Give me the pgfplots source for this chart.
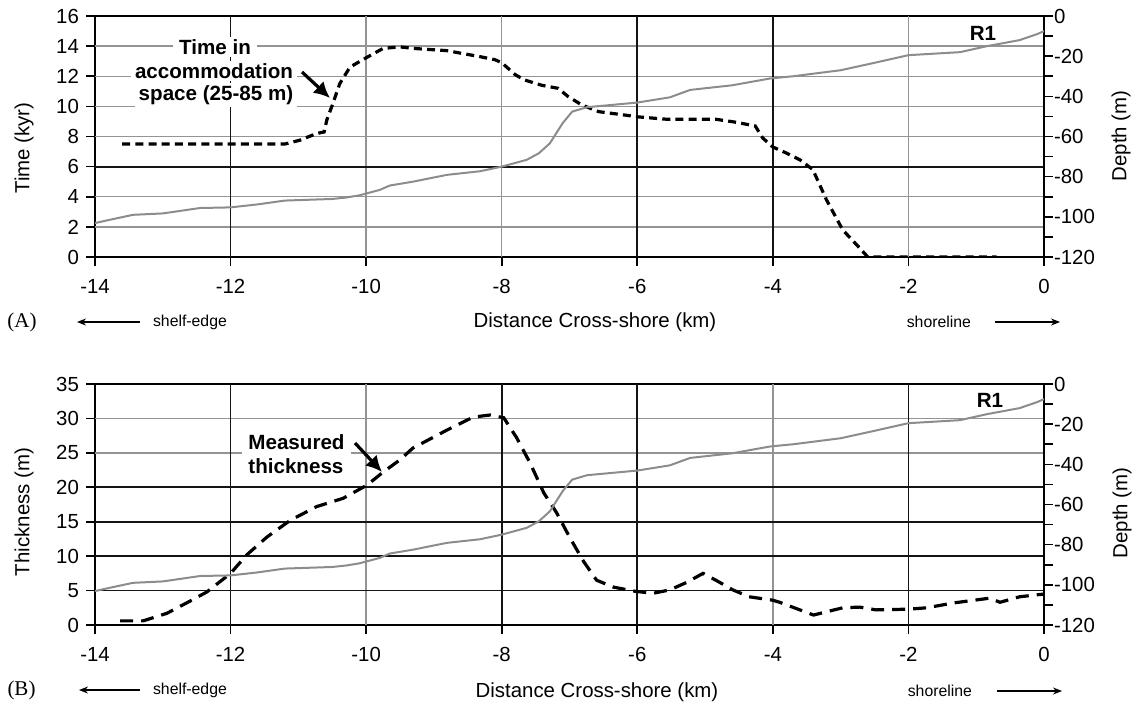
\documentclass[border=0pt]{standalone}
\usepackage{pgfplots}
\pgfplotsset{compat=1.18}
\usepackage{pgfplotstable}
\usepackage{fontspec}
\setmainfont{Liberation Sans}
\newfontfamily\timesfont{Liberation Serif}
\usetikzlibrary{arrows.meta}

% R1 depth profile (m), same in both panels
\pgfplotstableread{
x d
-14.0 -103.1
-13.8 -101.6
-13.44 -99.0
-13.0 -98.3
-12.45 -95.6
-12.0 -95.3
-11.6 -93.8
-11.2 -91.9
-10.5 -91.1
-10.3 -90.4
-10.1 -89.3
-9.8 -86.6
-9.65 -84.4
-9.31 -82.5
-8.81 -79.1
-8.32 -77.3
-8.0 -75.0
-7.63 -71.6
-7.45 -68.3
-7.29 -63.4
-7.1 -53.3
-6.96 -47.6
-6.74 -45.4
-6.0 -43.1
-5.52 -40.5
-5.22 -36.8
-4.6 -34.5
-4.04 -31.1
-3.7 -30.0
-3.0 -27.0
-2.5 -23.3
-2.0 -19.5
-1.24 -18.0
-0.84 -15.0
-0.36 -12.0
-0.1 -9.0
0.0 -7.5
}\depthprofile

% time in accommodation space (kyr)
\pgfplotstableread{
x t
-13.6 7.5
-11.2 7.5
-10.98 7.75
-10.73 8.2
-10.62 8.3
-10.58 9.1
-10.49 10.2
-10.39 11.5
-10.24 12.6
-10.05 13.1
-9.75 13.85
-9.5 13.95
-9.31 13.85
-8.81 13.7
-8.32 13.3
-8.1 13.1
-8.0 12.9
-7.8 12.1
-7.66 11.75
-7.41 11.4
-7.17 11.2
-7.02 10.65
-6.82 10.1
-6.57 9.65
-6.23 9.45
-5.98 9.3
-5.58 9.15
-4.85 9.15
-4.55 8.95
-4.26 8.7
-4.15 7.9
-4.0 7.3
-3.8 6.9
-3.6 6.45
-3.41 5.8
-3.21 3.8
-2.97 1.8
-2.72 0.6
-2.6 0.0
-0.7 0.0
}\timeacc

% measured thickness (m)
\pgfplotstableread{
x h
-13.63 0.6
-13.29 0.6
-12.94 1.7
-12.65 3.2
-12.35 4.8
-12.0 7.5
-11.76 10.2
-11.46 12.8
-11.12 15.2
-10.73 17.2
-10.34 18.4
-9.99 20.3
-9.75 22.2
-9.5 24.0
-9.31 25.7
-8.81 28.3
-8.42 30.2
-8.17 30.5
-7.97 30.1
-7.78 27.2
-7.58 23.5
-7.38 19.2
-7.19 16.3
-6.99 12.6
-6.79 9.2
-6.6 6.5
-6.35 5.5
-6.03 4.9
-5.77 4.6
-5.52 5.1
-5.27 6.2
-5.03 7.5
-4.84 6.5
-4.59 5.1
-4.35 4.1
-4.0 3.6
-3.9 3.3
-3.4 1.45
-2.97 2.5
-2.72 2.6
-2.48 2.2
-2.0 2.3
-1.73 2.5
-1.34 3.2
-0.8 3.9
-0.65 3.3
-0.36 4.1
0.0 4.5
}\thickness

\pgfplotsset{
  panel/.style={
    width=474.5pt, height=120.5pt, scale only axis,
    anchor=north west,
    xmin=-14, xmax=0,
    axis line style={line width=1.4pt},
    tick align=outside,
    major tick length=4.5pt, minor tick length=4.5pt,
    tick style={black, line width=0.8pt},
    tick label style={font=\fontsize{10.2}{12}\selectfont},
  },
  leftax/.style={
    xtick={-14,-12,...,0},
    xticklabels={-14,-12,-10,-8,-6,-4,-2,0},
    xtick pos=bottom, ytick pos=left,
    xticklabel style={yshift=-3pt},
  },
  rightax/.style={
    axis x line=none, axis y line*=right,
    ymin=-120, ymax=0,
    ytick={-120,-100,...,0},
    yticklabels={-120,-100,-80,-60,-40,-20,0},
    minor ytick={-110,-90,...,-10},
    yticklabel style={xshift=-3pt},
  },
}
\tikzset{
  gridg/.style={black!42, line width=0.7pt},
  gridk/.style={black!92, line width=0.9pt},
}

\begin{document}
\begin{tikzpicture}[font=\fontsize{10.2}{12}\selectfont]
\path[use as bounding box] (0,0) rectangle (569pt,-351pt);

% ---------------- panel A
\begin{axis}[panel, leftax, at={(47.5pt,-8pt)},
  ymin=0, ymax=16, ytick={0,2,...,16},
  yticklabels={0,2,4,6,8,10,12,14,16},
]
\pgfplotsinvokeforeach{2,4,8,10,12,14}{\draw[gridg] (axis cs:-14,#1) -- (axis cs:0,#1);}
\pgfplotsinvokeforeach{-10,-8,-2}{\draw[gridg] (axis cs:#1,0) -- (axis cs:#1,16);}
\draw[gridk] (axis cs:-14,6) -- (axis cs:0,6);
\pgfplotsinvokeforeach{-12,-6,-4}{\draw[gridk] (axis cs:#1,0) -- (axis cs:#1,16);}
\addplot[black, line width=1.6pt, dash pattern=on 4pt off 2.6pt] table[x=x,y=t]{\timeacc};
\end{axis}
\begin{axis}[panel, rightax, at={(47.5pt,-8pt)}]
\addplot[black!45, line width=1pt] table[x=x,y=d]{\depthprofile};
\end{axis}

% ---------------- panel B
\begin{axis}[panel, leftax, at={(47.5pt,-192pt)},
  ymin=0, ymax=35, ytick={0,5,...,35},
  yticklabels={0,5,10,15,20,25,30,35},
]
\pgfplotsinvokeforeach{25,30}{\draw[gridg] (axis cs:-14,#1) -- (axis cs:0,#1);}
\pgfplotsinvokeforeach{-10,-4}{\draw[gridg] (axis cs:#1,0) -- (axis cs:#1,35);}
\pgfplotsinvokeforeach{5,10,15,20}{\draw[gridk] (axis cs:-14,#1) -- (axis cs:0,#1);}
\pgfplotsinvokeforeach{-12,-8,-6,-2}{\draw[gridk] (axis cs:#1,0) -- (axis cs:#1,35);}
\addplot[black, line width=1.6pt, dash pattern=on 6.5pt off 4pt] table[x=x,y=h]{\thickness};
\end{axis}
\begin{axis}[panel, rightax, at={(47.5pt,-192pt)}]
\addplot[black!45, line width=1pt] table[x=x,y=d]{\depthprofile};
\end{axis}

% ---------------- labels
\node[rotate=90] at (12pt,-74pt) {Time (kyr)};
\node[rotate=90] at (560.5pt,-68pt) {Depth (m)};
\node[rotate=90] at (12pt,-256pt) {Thickness (m)};
\node[rotate=90] at (561pt,-256.5pt) {Depth (m)};
\node at (297.5pt,-161pt) {Distance Cross-shore (km)};
\node at (298.5pt,-346pt) {Distance Cross-shore (km)};

\node[font=\timesfont\fontsize{10.5}{12}\selectfont] at (11pt,-161pt) {(A)};
\node[font=\timesfont\fontsize{10.5}{12}\selectfont] at (10.75pt,-345pt) {(B)};

\begin{scope}[font=\fontsize{7.9}{9}\selectfont]
\draw[-{Stealth[length=4.5pt,width=3.5pt]}, line width=0.6pt] (70pt,-161pt) -- (38.5pt,-161pt);
\node[anchor=west] at (73pt,-161pt) {shelf-edge};
\draw[-{Stealth[length=4.5pt,width=3.5pt]}, line width=0.6pt] (497.5pt,-161pt) -- (530pt,-161pt);
\node[anchor=east] at (489pt,-161pt) {shoreline};
\draw[-{Stealth[length=4.5pt,width=3.5pt]}, line width=0.6pt] (70pt,-345pt) -- (39.5pt,-345pt);
\node[anchor=west] at (73pt,-345pt) {shelf-edge};
\draw[-{Stealth[length=4.5pt,width=3.5pt]}, line width=0.6pt] (498.5pt,-345.5pt) -- (531pt,-345.5pt);
\node[anchor=east] at (489.5pt,-345.5pt) {shoreline};
\end{scope}

% annotations
\begin{scope}[font=\bfseries\fontsize{10.3}{12}\selectfont]
\node[fill=white, inner xsep=3pt, inner ysep=1pt] at (107.5pt,-23.5pt) {Time in};
\node[fill=white, inner xsep=2pt, inner ysep=1pt] at (107pt,-35.5pt) {accommodation};
\node[fill=white, inner xsep=2pt, inner ysep=1pt] at (108pt,-47.5pt) {space (25-85 m)};
\draw[-{Latex[length=8pt,width=8pt]}, line width=1.6pt] (151pt,-36pt) -- (165pt,-49pt);
\node[fill=white, anchor=west, align=left, inner xsep=3pt, inner ysep=1pt] at (121pt,-227pt) {Measured\\thickness};
\draw[-{Latex[length=8pt,width=8pt]}, line width=1.6pt] (177.5pt,-221.5pt) -- (191pt,-236pt);
\node at (491.5pt,-16.5pt) {R1};
\node at (495pt,-200pt) {R1};
\end{scope}
\end{tikzpicture}
\end{document}
